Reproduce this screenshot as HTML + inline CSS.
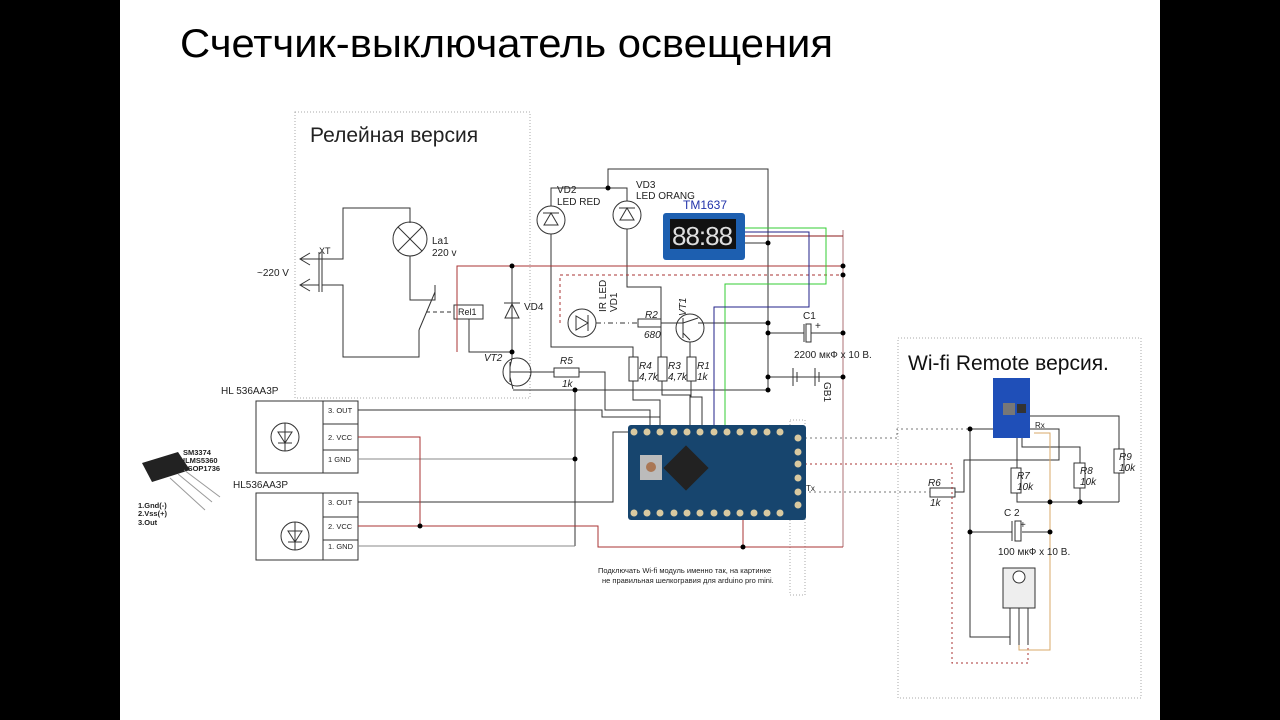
<!DOCTYPE html>
<html><head><meta charset="utf-8"><style>
html,body{margin:0;padding:0;background:#000}
svg{display:block}
text{font-family:"Liberation Sans",sans-serif}
</style></head><body>
<svg width="1280" height="720" viewBox="0 0 1280 720" xmlns="http://www.w3.org/2000/svg">
<rect x="0" y="0" width="1280" height="720" fill="#000"/>
<rect x="120" y="0" width="1040" height="720" fill="#fff"/>
<text x="180" y="57" font-size="40" fill="#000" textLength="653" lengthAdjust="spacingAndGlyphs">Счетчик-выключатель освещения</text>

<!-- dotted boxes -->
<rect x="295" y="112" width="235" height="286" fill="none" stroke="#aaa" stroke-dasharray="1,2"/>
<text x="310" y="142" font-size="21" fill="#222">Релейная версия</text>
<rect x="898" y="338" width="243" height="360" fill="none" stroke="#aaa" stroke-dasharray="1,2"/>
<text x="908" y="370" font-size="21" fill="#111">Wi-fi Remote версия.</text>
<rect x="790" y="420" width="15" height="175" fill="none" stroke="#aaa" stroke-dasharray="1,2"/>

<g fill="none" stroke="#333" stroke-width="1">
<polyline points="310,259 343,259 343,208 410,208 410,223"/>
<polyline points="322,285 343,285 343,357 419,357 419,330"/>
<line x1="419" y1="330" x2="435" y2="292"/>
<polyline points="435,285 435,300 410,300 410,256"/>
<circle cx="410" cy="239" r="17"/>
<line x1="398" y1="227" x2="422" y2="251"/><line x1="422" y1="227" x2="398" y2="251"/>
<line x1="319" y1="252" x2="319" y2="292"/><line x1="322" y1="252" x2="322" y2="292"/>
<polyline points="310,253 300,259 310,265"/><polyline points="310,279 300,285 310,291"/>
<line x1="300" y1="259" x2="319" y2="259"/><line x1="300" y1="285" x2="319" y2="285"/>
<line x1="426" y1="312" x2="454" y2="312" stroke-dasharray="4,3"/>
<rect x="454" y="305" width="29" height="14"/>
<polyline points="469,319 469,352 512,352"/>
<line x1="512" y1="266" x2="512" y2="358"/>
<polygon points="505,318 519,318 512,304"/><line x1="504" y1="303" x2="520" y2="303"/>
<circle cx="517" cy="372" r="14"/>
<line x1="510" y1="362" x2="510" y2="382"/>
<line x1="510" y1="367" x2="512" y2="358"/><line x1="510" y1="377" x2="513" y2="389"/>
<line x1="510" y1="372" x2="554" y2="372"/>
<rect x="554" y="368" width="25" height="9"/>
<polyline points="579,372 605,372 605,410 650,410 650,432"/>
<polyline points="513,390 768,390"/>
<line x1="575" y1="390" x2="575" y2="546"/>
<polyline points="551,206 551,188 627,188 627,201"/>
<polyline points="608,188 608,169 768,169 768,390"/>
<circle cx="551" cy="220" r="14"/><polygon points="544,225 558,225 551,213"/><line x1="543" y1="213" x2="559" y2="213"/>
<circle cx="627" cy="215" r="14"/><polygon points="620,220 634,220 627,208"/><line x1="619" y1="208" x2="635" y2="208"/>
<polyline points="551,234 551,347 633,347 633,357"/>
<polyline points="627,229 627,287 661,287 661,357"/>
<circle cx="582" cy="323" r="14"/><polygon points="576,316 576,330 588,323"/><line x1="588" y1="315" x2="588" y2="331"/>
<line x1="596" y1="323" x2="638" y2="323" stroke-dasharray="5,3,1,3"/>
<rect x="638" y="319" width="23" height="8"/>
<line x1="661" y1="323" x2="683" y2="323"/>
<circle cx="690" cy="328" r="14"/>
<line x1="683" y1="318" x2="683" y2="338"/>
<line x1="683" y1="323" x2="698" y2="318"/><line x1="683" y1="333" x2="690" y2="340"/>
<line x1="698" y1="323" x2="768" y2="323"/>
<polyline points="690,342 690,357"/>
<rect x="629" y="357" width="9" height="24"/><rect x="658" y="357" width="9" height="24"/><rect x="687" y="357" width="9" height="24"/>
<polyline points="633,381 633,400 660,400 660,432"/>
<polyline points="662,381 662,395 690,395 690,432"/>
<polyline points="691,381 691,397 702,397 702,432"/>
<line x1="725" y1="390" x2="725" y2="432"/>
<line x1="768" y1="333" x2="804" y2="333"/><line x1="811" y1="333" x2="843" y2="333"/>
<rect x="806" y="324" width="5" height="18"/><line x1="804" y1="324" x2="804" y2="342"/>
<line x1="768" y1="377" x2="843" y2="377"/>
<line x1="793" y1="368" x2="793" y2="386"/><line x1="797" y1="372" x2="797" y2="382"/>
<line x1="815" y1="368" x2="815" y2="386"/><line x1="819" y1="372" x2="819" y2="382"/>
<line x1="745" y1="243" x2="768" y2="243"/>
<rect x="256" y="401" width="102" height="72"/><line x1="323" y1="401" x2="323" y2="473"/>
<line x1="323" y1="424" x2="358" y2="424"/><line x1="323" y1="450" x2="358" y2="450"/>
<rect x="256" y="493" width="102" height="67"/><line x1="323" y1="493" x2="323" y2="560"/>
<line x1="323" y1="517" x2="358" y2="517"/><line x1="323" y1="540" x2="358" y2="540"/>
<circle cx="285" cy="437" r="14"/><polygon points="278,432 292,432 285,443"/><line x1="278" y1="443" x2="292" y2="443"/><line x1="285" y1="423" x2="285" y2="451"/>
<circle cx="295" cy="536" r="14"/><polygon points="288,531 302,531 295,542"/><line x1="288" y1="542" x2="302" y2="542"/><line x1="295" y1="522" x2="295" y2="550"/>
<polyline points="358,410 602,410 602,417 660,417 660,432"/>
<polyline points="358,502 613,502 613,432 628,432"/>
<line x1="358" y1="459" x2="575" y2="459" stroke="#888"/>
<line x1="358" y1="546" x2="575" y2="546" stroke="#888"/>
<polyline points="970,429 993,429"/>
<polyline points="970,429 970,637 1010,637"/>
<line x1="970" y1="532" x2="1012" y2="532"/><line x1="1022" y1="532" x2="1050" y2="532"/>
<rect x="1015" y="521" width="6" height="20"/><line x1="1012" y1="521" x2="1012" y2="541"/>
<polyline points="1017,438 1017,468"/><rect x="1011" y="468" width="10" height="25"/>
<polyline points="1017,493 1017,502 1119,502"/>
<polyline points="1022,438 1022,447 1080,447 1080,463"/><rect x="1074" y="463" width="11" height="25"/><line x1="1080" y1="488" x2="1080" y2="502"/>
<polyline points="1030,416 1119,416 1119,449"/><rect x="1114" y="449" width="10" height="24"/><line x1="1119" y1="473" x2="1119" y2="502"/>
<rect x="930" y="488" width="25" height="9"/>
<polyline points="955,492 964,492 964,460 1059,460 1059,429 1028,429"/>
<line x1="1010" y1="608" x2="1010" y2="645"/><line x1="1019" y1="608" x2="1019" y2="645"/><line x1="1028" y1="608" x2="1028" y2="645"/>
</g>
<g fill="none" stroke-width="1">
<polyline points="457,352 457,266 843,266" stroke="#a33"/>
<line x1="843" y1="230" x2="843" y2="547" stroke="#c9a0a4" stroke-width="1.5"/>
<polyline points="745,236 843,236" stroke="#8b1a1a"/>
<polyline points="560,323 560,275 843,275" stroke="#a33" stroke-dasharray="3,3"/>
<polyline points="745,228 826,228 826,284 725,284 725,432" stroke="#3c3"/>
<polyline points="745,232 809,232 809,307 714,307 714,432" stroke="#228"/>
<polyline points="358,437 420,437 420,527" stroke="#a33"/>
<polyline points="358,526 598,526 598,547 843,547" stroke="#a33"/>
<line x1="743" y1="520" x2="743" y2="547" stroke="#a33"/>
<polyline points="805,438 897,438 897,429 970,429" stroke="#777" stroke-dasharray="2,3"/>
<polyline points="809,492 930,492" stroke="#777" stroke-dasharray="2,3"/>
<polyline points="805,464 952,464 952,663 1028,663 1028,645" stroke="#a33" stroke-dasharray="2,3"/>
<polyline points="1034,433 1050,433 1050,650 1019,650 1019,645" stroke="#d8a868"/>
</g>
<g fill="#000">
<circle cx="512" cy="266" r="2.5"/><circle cx="512" cy="352" r="2.5"/><circle cx="608" cy="188" r="2.5"/>
<circle cx="843" cy="266" r="2.5"/><circle cx="843" cy="275" r="2.5"/><circle cx="575" cy="390" r="2.5"/>
<circle cx="768" cy="323" r="2.5"/><circle cx="768" cy="333" r="2.5"/><circle cx="768" cy="377" r="2.5"/><circle cx="768" cy="390" r="2.5"/>
<circle cx="843" cy="333" r="2.5"/><circle cx="843" cy="377" r="2.5"/><circle cx="768" cy="243" r="2.5"/>
<circle cx="575" cy="459" r="2.5"/><circle cx="420" cy="526" r="2.5"/><circle cx="743" cy="547" r="2.5"/>
<circle cx="970" cy="429" r="2.5"/><circle cx="970" cy="532" r="2.5"/><circle cx="1050" cy="532" r="2.5"/>
<circle cx="1050" cy="502" r="2.5"/><circle cx="1080" cy="502" r="2.5"/>
</g>
<rect x="663" y="213" width="82" height="47" rx="3" fill="#1d5fb0"/>
<rect x="670" y="219" width="66" height="30" fill="#111"/>
<text x="672" y="245" font-size="26" fill="#ddd" font-family="Liberation Mono" letter-spacing="-1">88:88</text>
<text x="683" y="209" font-size="12" fill="#2233aa">TM1637</text>
<rect x="628" y="425" width="178" height="95" rx="3" fill="#17456e"/>
<rect x="670" y="452" width="32" height="32" fill="#222" transform="rotate(45 686 468)"/>
<rect x="640" y="455" width="22" height="25" fill="#bbb"/><circle cx="651" cy="467" r="5" fill="#a75"/>
<g fill="#d9c9a0">
<circle cx="634" cy="432" r="3.5"/><circle cx="647" cy="432" r="3.5"/><circle cx="660" cy="432" r="3.5"/><circle cx="674" cy="432" r="3.5"/><circle cx="687" cy="432" r="3.5"/><circle cx="700" cy="432" r="3.5"/><circle cx="714" cy="432" r="3.5"/><circle cx="727" cy="432" r="3.5"/><circle cx="740" cy="432" r="3.5"/><circle cx="754" cy="432" r="3.5"/><circle cx="767" cy="432" r="3.5"/><circle cx="780" cy="432" r="3.5"/>
<circle cx="634" cy="513" r="3.5"/><circle cx="647" cy="513" r="3.5"/><circle cx="660" cy="513" r="3.5"/><circle cx="674" cy="513" r="3.5"/><circle cx="687" cy="513" r="3.5"/><circle cx="700" cy="513" r="3.5"/><circle cx="714" cy="513" r="3.5"/><circle cx="727" cy="513" r="3.5"/><circle cx="740" cy="513" r="3.5"/><circle cx="754" cy="513" r="3.5"/><circle cx="767" cy="513" r="3.5"/><circle cx="780" cy="513" r="3.5"/>
<circle cx="798" cy="438" r="3.5"/><circle cx="798" cy="452" r="3.5"/><circle cx="798" cy="464" r="3.5"/><circle cx="798" cy="478" r="3.5"/><circle cx="798" cy="492" r="3.5"/><circle cx="798" cy="505" r="3.5"/>
</g>
<rect x="993" y="378" width="37" height="60" fill="#1f4fb8"/>
<rect x="1003" y="403" width="12" height="12" fill="#777"/><rect x="1017" y="404" width="9" height="9" fill="#333"/>
<rect x="1003" y="568" width="32" height="40" fill="#eee" stroke="#333"/><circle cx="1019" cy="577" r="6" fill="#fff" stroke="#333"/>
<g>
<polygon points="142,463 178,452 190,470 152,482" fill="#222"/>
<line x1="170" y1="478" x2="205" y2="510" stroke="#999"/><line x1="178" y1="474" x2="212" y2="502" stroke="#999"/><line x1="184" y1="470" x2="220" y2="497" stroke="#999"/>
</g>
<g font-size="10" fill="#222">
<text x="257" y="276">~220 V</text>
<text x="319" y="254" font-size="9">XT</text>
<text x="432" y="244">La1</text><text x="432" y="256">220 v</text>
<text x="458" y="315" font-size="9">Rel1</text>
<text x="524" y="310">VD4</text>
<text x="484" y="361" font-style="italic">VT2</text>
<text x="560" y="364" font-style="italic">R5</text><text x="562" y="387" font-style="italic">1k</text>
<text x="557" y="193">VD2</text><text x="557" y="205">LED RED</text>
<text x="636" y="188">VD3</text><text x="636" y="199">LED ORANG</text>
<text x="645" y="318" font-style="italic">R2</text><text x="644" y="338" font-style="italic">680</text>
<text x="606" y="312" transform="rotate(-90 606 312)">IR LED</text>
<text x="617" y="312" transform="rotate(-90 617 312)">VD1</text>
<text x="686" y="316" transform="rotate(-90 686 316)" font-style="italic">VT1</text>
<text x="639" y="369" font-style="italic">R4</text><text x="639" y="380" font-style="italic">4,7k</text>
<text x="668" y="369" font-style="italic">R3</text><text x="668" y="380" font-style="italic">4,7k</text>
<text x="697" y="369" font-style="italic">R1</text><text x="697" y="380" font-style="italic">1k</text>
<text x="803" y="319">C1</text><text x="815" y="329">+</text>
<text x="794" y="358">2200 мкФ x 10 В.</text>
<text x="824" y="382" transform="rotate(90 824 382)">GB1</text>
<text x="221" y="394">HL 536AA3P</text><text x="233" y="488">HL536AA3P</text>
<g font-size="7.5"><text x="328" y="413">3. OUT</text><text x="328" y="440">2. VCC</text><text x="328" y="462">1 GND</text>
<text x="328" y="505">3. OUT</text><text x="328" y="529">2. VCC</text><text x="328" y="549">1. GND</text></g>
<g font-size="7.5" font-weight="bold" font-family="Liberation Mono"><text x="183" y="455">SM3374</text><text x="183" y="463">ILMS5360</text><text x="183" y="471">TSOP1736</text>
<text x="138" y="508">1.Gnd(-)</text><text x="138" y="516">2.Vss(+)</text><text x="138" y="525">3.Out</text></g>
<text x="598" y="573" font-size="7.5">Подключать Wi-fi модуль именно так, на картинке</text>
<text x="602" y="583" font-size="7.5">не правильная шелкогравия для arduino pro mini.</text>
<text x="1035" y="428" font-size="8">Rx</text><text x="806" y="491" font-size="8">Tx</text>
<text x="928" y="486" font-style="italic">R6</text><text x="930" y="506" font-style="italic">1k</text>
<text x="1017" y="479" font-style="italic">R7</text><text x="1017" y="490" font-style="italic">10k</text>
<text x="1080" y="474" font-style="italic">R8</text><text x="1080" y="485" font-style="italic">10k</text>
<text x="1119" y="460" font-style="italic">R9</text><text x="1119" y="471" font-style="italic">10k</text>
<text x="1004" y="516">C 2</text><text x="1020" y="528">+</text>
<text x="998" y="555">100 мкФ x 10 В.</text>
</g>
</svg>
</body></html>
